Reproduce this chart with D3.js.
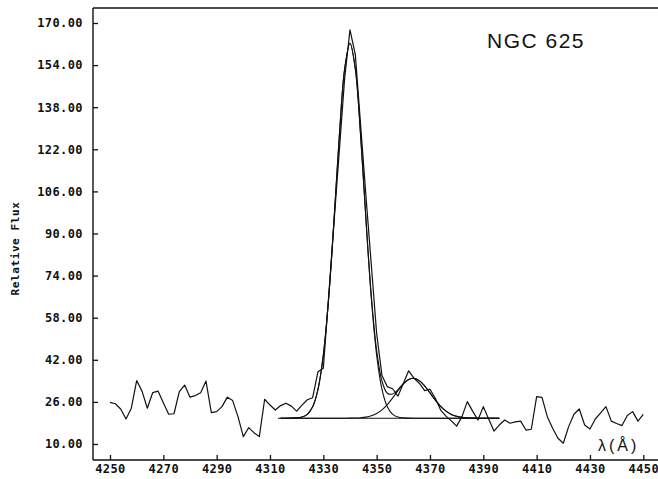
<!DOCTYPE html>
<html>
<head>
<meta charset="utf-8">
<script src="https://cdn.jsdelivr.net/npm/d3@7"></script>
<style>
  html, body { margin: 0; padding: 0; background: #fff; }
  svg { display: block; }
  .tick text { font-family: "DejaVu Sans Mono", monospace; font-size: 12px; font-weight: bold; letter-spacing: 0.4px; fill: #111; }
</style>
</head>
<body>
<svg id="chart" width="658" height="479"></svg>
<script>
// Observed spectrum, sampled every 2 Å from 4250 to 4450 Å
const lambdaStart = 4250;
const lambdaStep = 2;
const observedFlux = [
  25.8, 25.3, 23.3, 19.5, 23.6, 34.1, 30.1, 23.6, 29.5, 30.1,
  25.7, 21.3, 21.5, 29.9, 32.4, 27.8, 28.4, 29.5, 33.9, 21.9,
  22.3, 24.2, 27.8, 26.5, 20.4, 12.8, 16.2, 14.3, 12.8, 27.0,
  24.8, 22.9, 24.6, 25.5, 24.4, 22.5, 24.8, 26.8, 27.6, 37.5,
  38.8, 66.0, 94.0, 121.5, 149.0, 167.4, 158.0, 131.0, 104.0, 78.0,
  52.0, 36.0, 31.8, 31.0, 28.2, 33.0, 37.8, 35.0, 33.1, 30.3,
  30.8, 27.4, 22.9, 20.6, 18.8, 16.8, 20.4, 26.1, 22.5, 19.1,
  24.2, 19.5, 14.9, 17.2, 19.1, 17.9, 18.4, 18.7, 15.3, 15.6,
  28.0, 27.7, 20.4, 16.0, 12.2, 10.3, 16.6, 21.3, 23.3, 17.2,
  15.7, 19.5, 21.8, 24.2, 18.7, 17.8, 17.0, 20.8, 22.3, 18.7,
  21.3
];

// Fitted profile, sampled every 2 Å from 4314 to 4396 Å
const fitStart = 4314;
const fitStep = 2;
const fitTotal = [
  19.8, 19.8, 19.83, 19.92, 20.25, 21.29, 24.15, 30.78, 43.8, 65.4,
  94.9, 127.0, 152.5, 162.3, 152.6, 127.2, 95.3, 66.3, 45.6, 33.9,
  29.3, 29.0, 30.7, 32.9, 34.5, 35.0, 34.1, 32.1, 29.4, 26.7,
  24.3, 22.5, 21.25, 20.5, 20.1, 19.9, 19.85, 19.8, 19.8, 19.8,
  19.8, 19.8
];
// H-gamma component
const fitComp1 = [
  19.8, 19.8, 19.83, 19.92, 20.25, 21.29, 24.15, 30.78, 43.8, 65.4,
  94.9, 127.0, 152.5, 162.3, 152.5, 127.0, 94.9, 65.4, 43.8, 30.78,
  24.15, 21.29, 20.25, 19.92, 19.83, 19.8, 19.8, 19.8, 19.8, 19.8,
  19.8, 19.8, 19.8, 19.8, 19.8, 19.8, 19.8, 19.8, 19.8, 19.8,
  19.8, 19.8
];
// [O III] 4363 component
const fitComp2 = [
  19.8, 19.8, 19.8, 19.8, 19.8, 19.8, 19.8, 19.8, 19.8, 19.8,
  19.8, 19.8, 19.8, 19.82, 19.87, 19.98, 20.22, 20.70, 21.56, 22.96,
  24.96, 27.50, 30.27, 32.79, 34.50, 34.98, 34.10, 32.09, 29.44, 26.69,
  24.30, 22.48, 21.25, 20.52, 20.13, 19.93, 19.85, 19.8, 19.8, 19.8,
  19.8, 19.8
];
// Continuum level under the fit
const continuumRange = [4313, 4396];
const continuumLevel = 19.8;

const yTicks = [10, 26, 42, 58, 74, 90, 106, 122, 138, 154, 170];
const xTicks = [4250, 4270, 4290, 4310, 4330, 4350, 4370, 4390, 4410, 4430, 4450];

const svg = d3.select("#chart");
const frame = { left: 93, top: 8, right: 658, bottom: 460 };

const x = d3.scaleLinear().domain([4250, 4450]).range([110, 643.3]);
const y = d3.scaleLinear().domain([10, 170]).range([444, 23]);

// Frame: left, top and bottom edges
const frameG = svg.append("g").attr("stroke", "#111").attr("stroke-width", 1.4).attr("fill", "none");
frameG.append("line").attr("x1", frame.left).attr("x2", frame.left).attr("y1", frame.top).attr("y2", frame.bottom);
frameG.append("line").attr("x1", frame.left).attr("x2", frame.right).attr("y1", frame.top).attr("y2", frame.top);
frameG.append("line").attr("x1", frame.left).attr("x2", frame.right).attr("y1", frame.bottom).attr("y2", frame.bottom);

// Axes with inward ticks
const yAxis = d3.axisLeft(y).tickValues(yTicks).tickFormat(d3.format(".2f")).tickSize(-5).tickPadding(10);
svg.append("g").attr("transform", `translate(${frame.left},0)`).call(yAxis)
  .call(g => g.select(".domain").remove())
  .call(g => g.selectAll(".tick line").attr("stroke", "#111").attr("stroke-width", 1.3));

const xAxis = d3.axisBottom(x).tickValues(xTicks).tickFormat(d3.format("d")).tickSize(-5).tickPadding(4);
svg.append("g").attr("transform", `translate(0,${frame.bottom})`).call(xAxis)
  .call(g => g.select(".domain").remove())
  .call(g => g.selectAll(".tick line").attr("stroke", "#111").attr("stroke-width", 1.3));

// Observed spectrum
const observed = observedFlux.map((v, i) => [lambdaStart + i * lambdaStep, v]);
const lineStraight = d3.line().x(d => x(d[0])).y(d => y(d[1]));
svg.append("path").datum(observed)
  .attr("d", lineStraight)
  .attr("fill", "none").attr("stroke", "#111").attr("stroke-width", 1.2).attr("stroke-linejoin", "round");

// Fit curves
const lineSmooth = d3.line().x(d => x(d[0])).y(d => y(d[1])).curve(d3.curveCatmullRom.alpha(0.5));
[fitTotal, fitComp1, fitComp2].forEach(series => {
  const pts = series.map((v, i) => [fitStart + i * fitStep, v]);
  svg.append("path").datum(pts)
    .attr("d", lineSmooth)
    .attr("fill", "none").attr("stroke", "#111").attr("stroke-width", 1.1);
});

// Continuum
svg.append("path").datum(continuumRange.map(l => [l, continuumLevel]))
  .attr("d", lineStraight)
  .attr("fill", "none").attr("stroke", "#111").attr("stroke-width", 1.1);

// Axis titles and label
svg.append("text")
  .attr("transform", "translate(18.5,248.5) rotate(-90)")
  .attr("text-anchor", "middle")
  .attr("font-family", "DejaVu Sans Mono, monospace")
  .attr("font-size", 11)
  .attr("font-weight", "bold")
  .attr("letter-spacing", 0.6)
  .attr("fill", "#111")
  .text("Relative Flux");

svg.append("text")
  .attr("x", 487).attr("y", 48)
  .attr("font-family", "Liberation Sans, Arial, sans-serif")
  .attr("font-size", 21)
  .attr("letter-spacing", 1.5)
  .attr("fill", "#111")
  .text("NGC 625");

svg.append("text")
  .attr("x", 598).attr("y", 451)
  .attr("font-family", "Liberation Sans, Arial, sans-serif")
  .attr("font-size", 16)
  .attr("letter-spacing", 3)
  .attr("fill", "#111")
  .text("λ(Å)");
</script>
</body>
</html>
